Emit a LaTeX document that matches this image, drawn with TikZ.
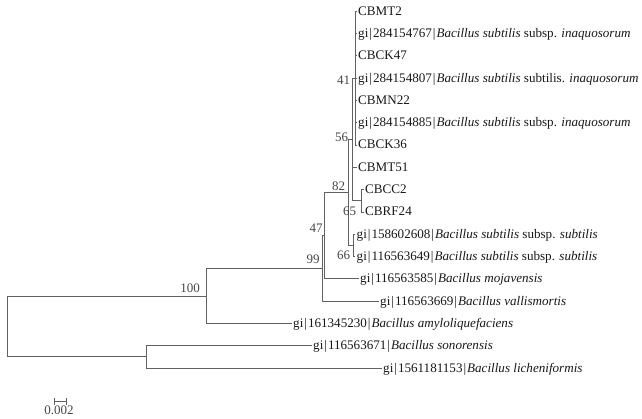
\documentclass[tikz,border=0pt]{standalone}
\usepackage{fontspec}
\setmainfont{Liberation Serif}
\newcommand{\gid}[1]{gi\kern1pt|\kern1pt#1\kern1pt|\kern1pt}
\begin{document}
\begin{tikzpicture}[x=1pt,y=-1pt,
  br/.style={draw=black!62, line width=0.75pt},
  leaf/.style={anchor=west, inner xsep=1.5pt, inner ysep=0pt, text height=8pt, text depth=0pt,
               font=\fontsize{13.1}{16}\selectfont, text=black!90},
  bs/.style={inner sep=0pt, font=\fontsize{13}{15}\selectfont, text=black!72}]
\useasboundingbox[fill=white] (0,0) rectangle (642,419);
% leaves
\node[leaf] (l1)  at (356.5, 11.2)  {CBMT2};
\node[leaf] (l2)  at (356.5, 33.5)  {\gid{284154767}\textit{Bacillus subtilis} subsp. \textit{inaquosorum}};
\node[leaf] (l3)  at (356.5, 55.8)  {CBCK47};
\node[leaf] (l4)  at (356.5, 78.1)  {\gid{284154807}\textit{Bacillus subtilis} subtilis. \textit{inaquosorum}};
\node[leaf] (l5)  at (356.5, 100.4) {CBMN22};
\node[leaf] (l6)  at (356.5, 122.7) {\gid{284154885}\textit{Bacillus subtilis} subsp. \textit{inaquosorum}};
\node[leaf] (l7)  at (356.5, 145.0) {CBCK36};
\node[leaf] (l8)  at (356.5, 167.3) {CBMT51};
\node[leaf] (l9)  at (363.5, 189.6) {CBCC2};
\node[leaf] (l10) at (363.5, 211.9) {CBRF24};
\node[leaf] (l11) at (355, 234.2) {\gid{158602608}\textit{Bacillus subtilis} subsp. \textit{subtilis}};
\node[leaf] (l12) at (355, 256.5) {\gid{116563649}\textit{Bacillus subtilis} subsp. \textit{subtilis}};
\node[leaf] (l13) at (358.5, 278.8) {\gid{116563585}\textit{Bacillus mojavensis}};
\node[leaf] (l14) at (378.5, 301.1) {\gid{116563669}\textit{Bacillus vallismortis}};
\node[leaf] (l15) at (291.5, 323.4) {\gid{161345230}\textit{Bacillus amyloliquefaciens}};
\node[leaf] (l16) at (311.5, 345.7) {\gid{116563671}\textit{Bacillus sonorensis}};
\node[leaf] (l17) at (381.5, 368.0) {\gid{1561181153}\textit{Bacillus licheniformis}};
% internal nodes
\coordinate (n41)  at (355, 78.1);
\coordinate (n65)  at (361, 200.75);
\coordinate (n56)  at (352, 139.4);
\coordinate (n66)  at (353, 245.35);
\coordinate (n82)  at (348, 192.4);
\coordinate (n47)  at (324, 235.6);
\coordinate (n99)  at (322, 268.35);
\coordinate (n100) at (206, 295.9);
\coordinate (nSL)  at (146, 356.85);
\coordinate (root) at (7, 326.4);
% branches
\foreach \c in {l1,l2,l3,l4,l5,l6,l7} \draw[br] (n41) |- (\c.west);
\foreach \c in {l9,l10} \draw[br] (n65) |- (\c.west);
\draw[br] (n56) |- (n41);
\draw[br] (n56) |- (l8.west);
\draw[br] (n56) |- (n65);
\foreach \c in {l11,l12} \draw[br] (n66) |- (\c.west);
\draw[br] (n82) |- (n56);
\draw[br] (n82) |- (n66);
\draw[br] (n47) |- (n82);
\draw[br] (n47) |- (l13.west);
\draw[br] (n99) |- (n47);
\draw[br] (n99) |- (l14.west);
\draw[br] (n100) |- (n99);
\draw[br] (n100) |- (l15.west);
\draw[br] (nSL) |- (l16.west);
\draw[br] (nSL) |- (l17.west);
\draw[br] (root) |- (n100);
\draw[br] (root) |- (nSL);
% bootstrap values
\node[bs] (b41)  at (343.5, 80)  {41};
\node[bs] (b56)  at (341.5, 137) {56};
\node[bs] (b82)  at (338.5, 186) {82};
\node[bs] (b65)  at (349.5, 211) {65};
\node[bs] (b66)  at (343.5, 255) {66};
\node[bs] (b47)  at (316, 228)   {47};
\node[bs] (b99)  at (313, 259)   {99};
\node[bs] (b100) at (190, 288)   {100};
% scale bar
\draw[br] (54,397.5) -- (54,404.5) (54,401) -- (66,401) (66,397.5) -- (66,404.5);
\node[bs] (sbl) at (59, 410.5) {0.002};
\end{tikzpicture}
\end{document}
